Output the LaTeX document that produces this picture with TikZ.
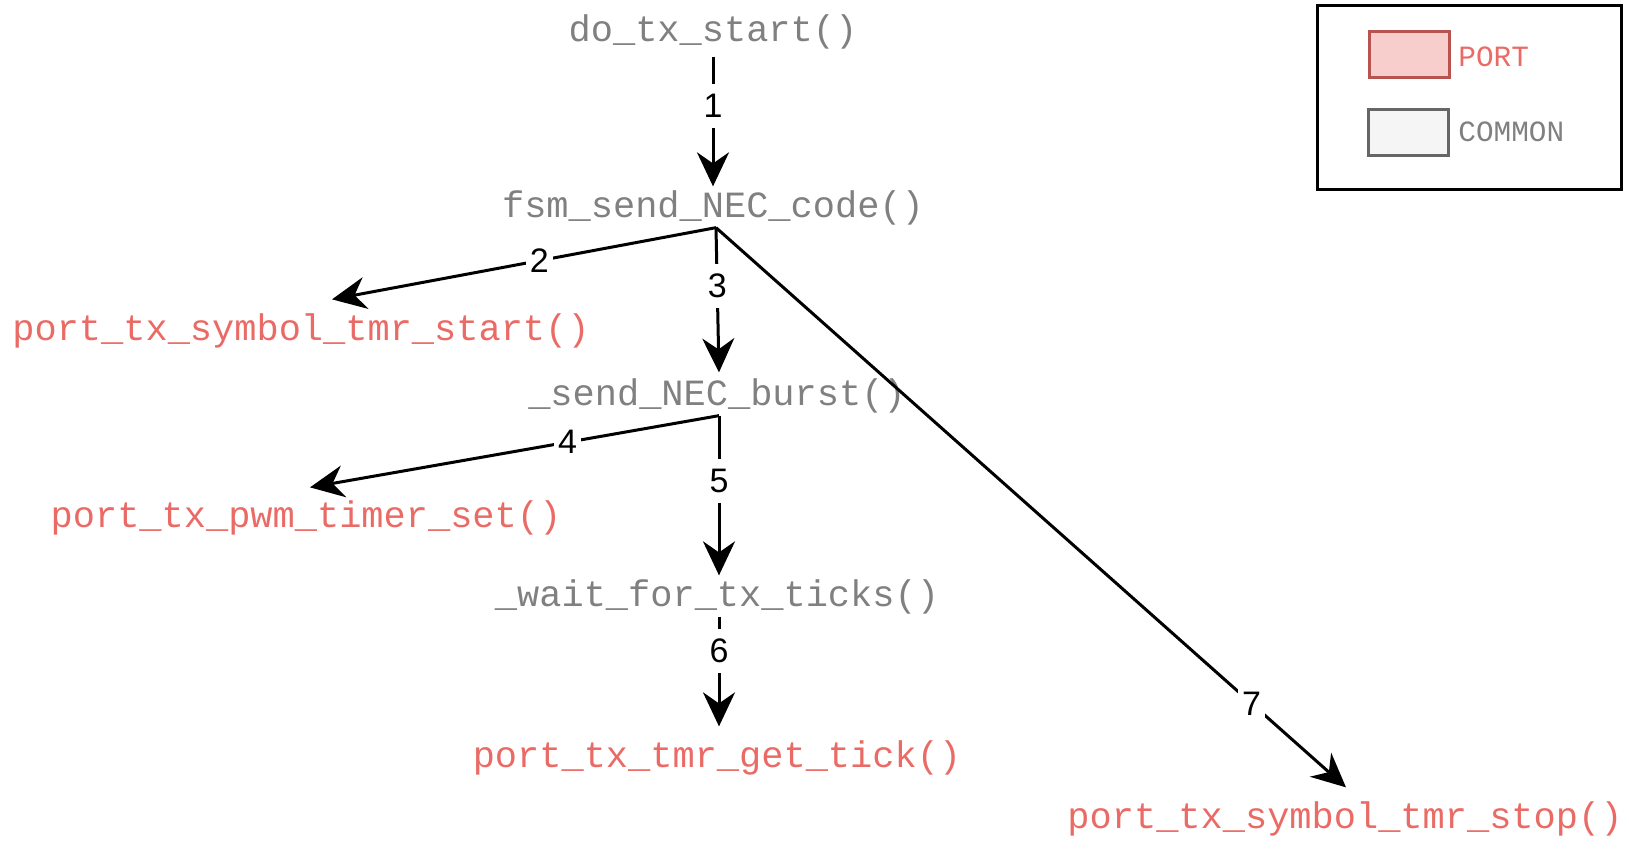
\documentclass[tikz,border=0pt]{standalone}
\usepackage{fontspec}
\setmainfont{Liberation Sans}
\setmonofont{Liberation Mono}
\usetikzlibrary{arrows.meta,calc}
\definecolor{fngray}{HTML}{808080}
\definecolor{fnred}{HTML}{EA6B66}
\definecolor{portfill}{HTML}{F8CECC}
\definecolor{portline}{HTML}{B85450}
\definecolor{comfill}{HTML}{F5F5F5}
\definecolor{comline}{HTML}{666666}

\begin{document}
\begin{tikzpicture}[x=0.5pt,y=-0.5pt,
    common/.style={font=\fontsize{18.5}{22}\selectfont\ttfamily, text=fngray, inner sep=1pt},
    port/.style={common, text=fnred},
    call/.style={line width=1.5pt, -{Stealth[length=17pt,width=16pt]}},
    num/.style={font=\fontsize{17}{20}\selectfont, fill=white, inner xsep=2pt, inner ysep=5pt},
    key/.style={line width=1.5pt, minimum width=40pt, minimum height=23pt, inner sep=0pt}]
    %%%%% START %%%%%
    \useasboundingbox (0,0) rectangle (1629,853);

    % functions
    \node[common] (dostart) at (713,32) {do\_tx\_start()};
    \node[common] (fsmsend) at (713,208) {fsm\_send\_NEC\_code()};
    \node[port]   (symstart) at (301,331) {port\_tx\_symbol\_tmr\_start()};
    \node[common] (burst) at (717,396) {\_send\_NEC\_burst()};
    \node[port]   (pwmset) at (306,518) {port\_tx\_pwm\_timer\_set()};
    \node[common] (waitticks) at (717,597) {\_wait\_for\_tx\_ticks()};
    \node[port]   (gettick) at (717,758) {port\_tx\_tmr\_get\_tick()};
    \node[port]   (symstop) at (1345,819) {port\_tx\_symbol\_tmr\_stop()};

    % calls
    \draw[call] ([yshift=-2.5]dostart.south) -- ([yshift=1]fsmsend.north) node[num,pos=0.38] {1};
    \draw[call] ([xshift=1.5]fsmsend.south) -- ([shift={(31,-12)}]symstart.north) node[num,pos=0.46] {2};
    \draw[call] ([xshift=1.5]fsmsend.south) -- ([shift={(2,-4)}]burst.north) node[num,pos=0.4] {3};
    \draw[call] ([xshift=1]burst.south) -- ([shift={(4,-11)}]pwmset.north) node[num,pos=0.37] {4};
    \draw[call] ([xshift=1]burst.south) -- ([shift={(2,-2)}]waitticks.north) node[num,pos=0.41] {5};
    \draw[call] ([xshift=1]waitticks.south) -- ([shift={(2,-12)}]gettick.north) node[num,pos=0.31] {6};
    \draw[call] ([xshift=1.5]fsmsend.south) -- ([shift={(1,-12)}]symstop.north) node[num,pos=0.85] {7};

    % legend
    \draw[line width=1.5pt] (1317,5) rectangle (1621,189);
    \node[key, draw=portline, fill=portfill] (portkey) at (1409,54) {};
    \node[key, draw=comline, fill=comfill] (comkey) at (1408,132) {};
    \node[anchor=west, font=\fontsize{14.7}{18}\selectfont\ttfamily, text=fnred, inner sep=0pt] (porttxt) at (1458,57) {PORT};
    \node[anchor=west, font=\fontsize{14.7}{18}\selectfont\ttfamily, text=fngray, inner sep=0pt] (comtxt) at (1458,132) {COMMON};
    %%%%% END %%%%%
\end{tikzpicture}
\end{document}
